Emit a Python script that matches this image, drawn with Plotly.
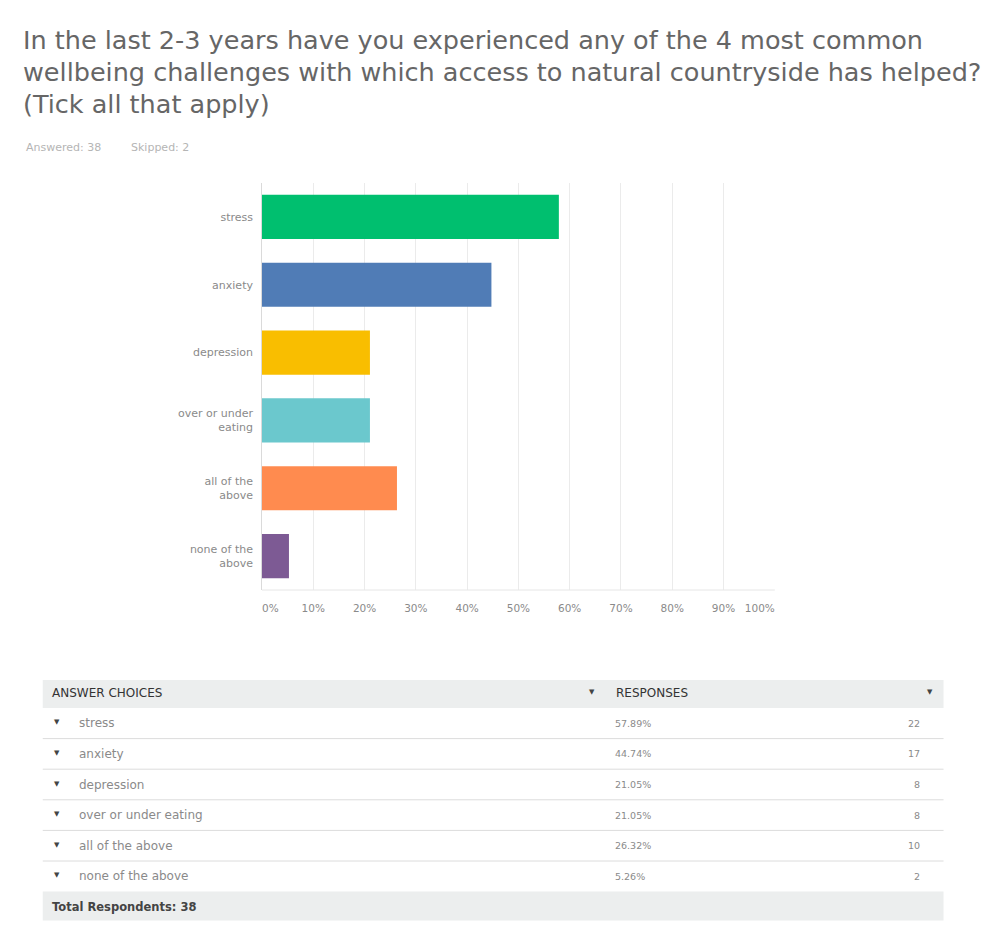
import plotly.graph_objects as go

title_lines = ["In the last 2-3 years have you experienced any of the 4 most common",
               "wellbeing challenges with which access to natural countryside has helped?",
               "(Tick all that apply)"]
answered = 38
skipped = 2
categories = ["stress", "anxiety", "depression", "over or under eating", "all of the above", "none of the above"]
axis_labels = ["stress", "anxiety", "depression", "over or under<br>eating", "all of the<br>above", "none of the<br>above"]
percents = [57.89, 44.74, 21.05, 21.05, 26.32, 5.26]
counts = [22, 17, 8, 8, 10, 2]
colors = ["#00BF6F", "#507CB6", "#F9BE00", "#6BC8CD", "#FF8B4F", "#7D5A94"]
x_ticks = [0, 10, 20, 30, 40, 50, 60, 70, 80, 90, 100]
total_respondents = 38

FONT = "DejaVu Sans, sans-serif"
W, H = 1005, 951


def px(x):
    return x / W


def py(y):
    return 1 - y / H


def tick_label(t):
    # first label left-justified, last right-justified like the original
    if t == x_ticks[0]:
        return "&nbsp;" * 5 + f"{t}%"
    if t == x_ticks[-1]:
        return f"{t}%" + "&nbsp;" * 9
    return f"{t}%"


fig = go.Figure()
fig.add_trace(go.Bar(
    y=axis_labels, x=percents, orientation="h",
    marker=dict(color=colors, line=dict(width=0)),
    hoverinfo="x+y",
))

fig.update_layout(
    width=W, height=H,
    margin=dict(l=0, r=0, t=0, b=0),
    paper_bgcolor="white", plot_bgcolor="white",
    showlegend=False,
    bargap=0.35,
    font=dict(family=FONT, color="#666"),
    xaxis=dict(domain=[px(257), px(795)], range=[0, 100], tickvals=x_ticks,
               ticktext=[tick_label(t) for t in x_ticks], showgrid=True, gridcolor="#EBEBEB",
               gridwidth=1, zeroline=True, zerolinecolor="#DADADA", zerolinewidth=1,
               showline=False, ticks="", tickfont=dict(size=10.5, color="#8a8a8a"),
               ticklabelstandoff=10, fixedrange=True),
    yaxis=dict(domain=[py(590), py(183)], autorange="reversed", showgrid=False,
               ticks="", tickfont=dict(size=11, color="#8a8a8a"), ticklabelstandoff=8,
               showline=False, fixedrange=True),
)

# bottom baseline of the chart
fig.add_shape(type="line", xref="paper", yref="paper", x0=px(257), x1=px(795),
              y0=py(590), y1=py(590), line=dict(color="#E6E6E6", width=1))

# title, one line per annotation
for k, line in enumerate(title_lines):
    fig.add_annotation(text=line, xref="paper", yref="paper",
                       x=px(4), y=py(40 + 32 * k), xanchor="left", yanchor="middle", align="left",
                       showarrow=False, font=dict(size=25.5, color="#666", family=FONT))
fig.add_annotation(text=f"Answered: {answered}", xref="paper", yref="paper", x=px(7), y=py(147),
                   xanchor="left", yanchor="middle", showarrow=False,
                   font=dict(size=11, color="#b5b5b5"))
fig.add_annotation(text=f"Skipped: {skipped}", xref="paper", yref="paper", x=px(118), y=py(147),
                   xanchor="left", yanchor="middle", showarrow=False,
                   font=dict(size=11, color="#b5b5b5"))

# table
tx0, tx1 = 27, 972
header_top, header_bot = 680, 708
row_h = 30.6
fig.add_shape(type="rect", xref="paper", yref="paper", x0=px(tx0), x1=px(tx1),
              y0=py(header_top), y1=py(header_bot), fillcolor="#ECEEEE", line=dict(width=0))
fig.add_annotation(text="ANSWER CHOICES", xref="paper", yref="paper", x=px(35), y=py(693),
                   xanchor="left", yanchor="middle", showarrow=False,
                   font=dict(size=12, color="#333"))
fig.add_annotation(text="▼", xref="paper", yref="paper", x=px(603), y=py(692),
                   xanchor="center", yanchor="middle", showarrow=False,
                   font=dict(size=7, color="#444"))
fig.add_annotation(text="RESPONSES", xref="paper", yref="paper", x=px(626), y=py(693),
                   xanchor="left", yanchor="middle", showarrow=False,
                   font=dict(size=12, color="#333"))
fig.add_annotation(text="▼", xref="paper", yref="paper", x=px(958), y=py(692),
                   xanchor="center", yanchor="middle", showarrow=False,
                   font=dict(size=7, color="#444"))

for i, (cat, p, c) in enumerate(zip(categories, percents, counts)):
    top = header_bot + i * row_h
    mid = top + row_h / 2
    if i > 0:
        fig.add_shape(type="line", xref="paper", yref="paper", x0=px(tx0), x1=px(tx1),
                      y0=py(top), y1=py(top), line=dict(color="#DCDCDC", width=1))
    fig.add_annotation(text="▼", xref="paper", yref="paper", x=px(42), y=py(mid - 1),
                       xanchor="center", yanchor="middle", showarrow=False,
                       font=dict(size=7, color="#444"))
    fig.add_annotation(text=cat, xref="paper", yref="paper", x=px(63), y=py(mid),
                       xanchor="left", yanchor="middle", showarrow=False,
                       font=dict(size=12, color="#8a8a8a"))
    fig.add_annotation(text=f"{p:.2f}%", xref="paper", yref="paper", x=px(625), y=py(mid),
                       xanchor="left", yanchor="middle", showarrow=False,
                       font=dict(size=9.5, color="#8a8a8a"))
    fig.add_annotation(text=str(c), xref="paper", yref="paper", x=px(949), y=py(mid),
                       xanchor="right", yanchor="middle", showarrow=False,
                       font=dict(size=9.5, color="#8a8a8a"))

tot_top = header_bot + len(categories) * row_h
fig.add_shape(type="rect", xref="paper", yref="paper", x0=px(tx0), x1=px(tx1),
              y0=py(tot_top), y1=py(tot_top + 29), fillcolor="#ECEEEE", line=dict(width=0))
fig.add_annotation(text=f"<b>Total Respondents: {total_respondents}</b>", xref="paper", yref="paper",
                   x=px(35), y=py(tot_top + 15), xanchor="left", yanchor="middle", showarrow=False,
                   font=dict(size=11.5, color="#444"))

fig.write_html("out.html")
